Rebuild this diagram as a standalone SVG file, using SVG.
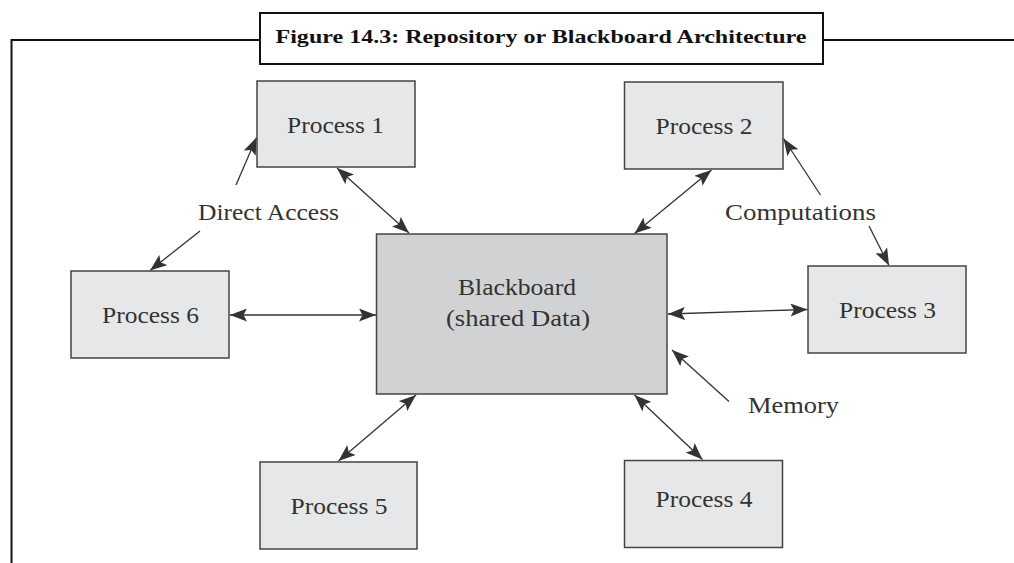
<svg xmlns="http://www.w3.org/2000/svg" width="1014" height="563" viewBox="0 0 1014 563">
  <style>
    .frame { fill: none; stroke: #111; stroke-width: 2; }
    .title { font-family: "Liberation Serif", serif; font-weight: bold; font-size: 19px; fill: #111; }
    .box { fill: #e6e7e8; stroke: #444; stroke-width: 1.5; }
    .board { fill: #d1d2d4; stroke: #444; stroke-width: 1.5; }
    .lbl { font-family: "Liberation Serif", serif; font-size: 22.5px; fill: #333; text-anchor: middle; }
    .note { font-family: "Liberation Serif", serif; font-size: 22.5px; fill: #333; }
    .link { fill: none; stroke: #333; stroke-width: 1.3; }
  </style>
  <defs>
    <marker id="head" markerUnits="userSpaceOnUse" markerWidth="18" markerHeight="13" refX="17" refY="6.5" orient="auto-start-reverse">
      <path d="M0,0 L17,6.5 L0,13 L3.5,6.5 Z" fill="#333"/>
    </marker>
  </defs>
  <rect width="1014" height="563" fill="#fff"/>

  <!-- figure frame with caption box -->
  <g id="frame">
    <polyline class="frame" points="11.5,563 11.5,40 260,40"/>
    <line class="frame" x1="823" y1="40" x2="1014" y2="40"/>
    <rect class="frame" x="260" y="13" width="563" height="51" fill="#fff"/>
    <text class="title" x="275.5" y="43" textLength="531" lengthAdjust="spacingAndGlyphs">Figure 14.3: Repository or Blackboard Architecture</text>
  </g>

  <!-- connectors -->
  <g id="connectors">
    <line class="link" x1="236" y1="185" x2="256.5" y2="137.5" marker-end="url(#head)"/>
    <line class="link" x1="337" y1="168" x2="409" y2="233" marker-start="url(#head)" marker-end="url(#head)"/>
    <line class="link" x1="200" y1="231" x2="150" y2="270.5" marker-end="url(#head)"/>
    <line class="link" x1="230" y1="315" x2="376" y2="315" marker-start="url(#head)" marker-end="url(#head)"/>
    <line class="link" x1="416" y1="395" x2="338.5" y2="461" marker-start="url(#head)" marker-end="url(#head)"/>
    <line class="link" x1="711.5" y1="170" x2="634.5" y2="233.5" marker-start="url(#head)" marker-end="url(#head)"/>
    <line class="link" x1="820.5" y1="195" x2="783.5" y2="138.5" marker-end="url(#head)"/>
    <line class="link" x1="869" y1="226" x2="889" y2="265.5" marker-end="url(#head)"/>
    <line class="link" x1="668" y1="314" x2="807.5" y2="309.5" marker-start="url(#head)" marker-end="url(#head)"/>
    <line class="link" x1="729" y1="401.5" x2="672" y2="350" marker-end="url(#head)"/>
    <line class="link" x1="634.5" y1="395" x2="702.5" y2="459.5" marker-start="url(#head)" marker-end="url(#head)"/>
  </g>

  <g id="blackboard">
    <rect class="board" x="376.5" y="234" width="290.5" height="160"/>
    <text class="lbl" x="517" y="295" textLength="118" lengthAdjust="spacingAndGlyphs">Blackboard</text>
    <text class="lbl" x="518" y="325.5" textLength="144" lengthAdjust="spacingAndGlyphs">(shared Data)</text>
  </g>

  <g id="process1">
    <rect class="box" x="257" y="81" width="158" height="86"/>
    <text class="lbl" x="335.5" y="133" textLength="97" lengthAdjust="spacingAndGlyphs">Process 1</text>
  </g>
  <g id="process2">
    <rect class="box" x="624.5" y="82" width="158.5" height="87"/>
    <text class="lbl" x="704" y="134" textLength="97" lengthAdjust="spacingAndGlyphs">Process 2</text>
  </g>
  <g id="process3">
    <rect class="box" x="808" y="266" width="158" height="87"/>
    <text class="lbl" x="887.5" y="318" textLength="97" lengthAdjust="spacingAndGlyphs">Process 3</text>
  </g>
  <g id="process4">
    <rect class="box" x="624.5" y="460.5" width="158" height="87"/>
    <text class="lbl" x="704" y="507" textLength="97" lengthAdjust="spacingAndGlyphs">Process 4</text>
  </g>
  <g id="process5">
    <rect class="box" x="260" y="462" width="157" height="87"/>
    <text class="lbl" x="339" y="514" textLength="97" lengthAdjust="spacingAndGlyphs">Process 5</text>
  </g>
  <g id="process6">
    <rect class="box" x="71" y="271" width="158" height="87"/>
    <text class="lbl" x="150.5" y="323" textLength="97" lengthAdjust="spacingAndGlyphs">Process 6</text>
  </g>

  <g id="labels">
    <text class="note" x="198" y="220" textLength="141" lengthAdjust="spacingAndGlyphs">Direct Access</text>
    <text class="note" x="725" y="220" textLength="151" lengthAdjust="spacingAndGlyphs">Computations</text>
    <text class="note" x="748" y="413" textLength="91" lengthAdjust="spacingAndGlyphs">Memory</text>
  </g>
</svg>
